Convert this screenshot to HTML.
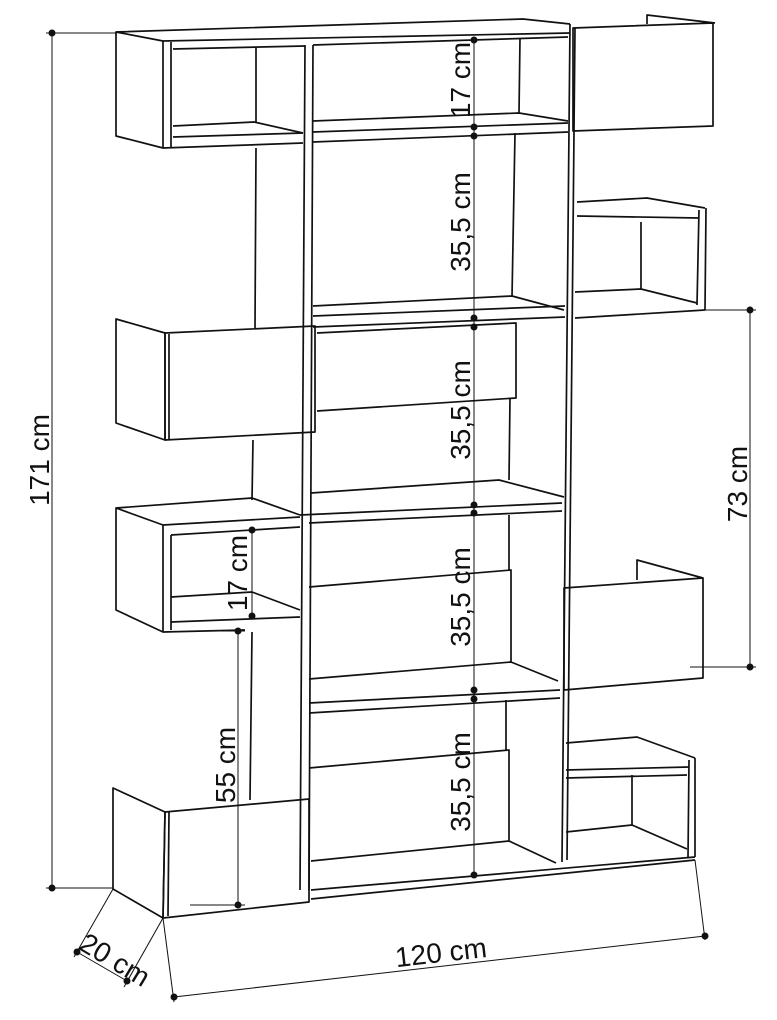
<!DOCTYPE html>
<html><head><meta charset="utf-8"><style>
html,body{margin:0;padding:0;background:#fff}
svg{display:block}
text{font-family:"Liberation Sans",sans-serif;font-size:28px;fill:#111}
</style></head><body>
<svg width="777" height="1020" viewBox="0 0 777 1020" xmlns="http://www.w3.org/2000/svg">
<g fill="none" stroke="#111" stroke-width="1.7" stroke-linejoin="round">
<polyline points="116,32 523,19 570,24"/>
<line x1="163" y1="41" x2="570" y2="33"/>
<line x1="173" y1="49" x2="305" y2="46"/>
<line x1="313" y1="45" x2="568" y2="37"/>
<polygon points="116,32 163,41 163,148 116,136"/>
<line x1="171" y1="42" x2="171" y2="147"/>
<line x1="256" y1="47" x2="256" y2="123"/>
<polyline points="173,126 254,122 303,133"/>
<line x1="173" y1="137" x2="303" y2="133"/>
<line x1="163" y1="148" x2="303" y2="143"/>
<line x1="520" y1="38" x2="519" y2="113"/>
<polyline points="313,121 519,113 568,121"/>
<line x1="313" y1="132" x2="568" y2="123"/>
<line x1="313" y1="142" x2="568" y2="132"/>
<polygon points="573,28 713,23 713,126 573,131"/>
<polyline points="647,24 647,15 715,23"/>
<line x1="305" y1="45" x2="300" y2="890"/>
<line x1="313" y1="45" x2="309" y2="890"/>
<line x1="570" y1="24" x2="562" y2="862"/>
<line x1="575" y1="28" x2="567" y2="860"/>
<line x1="256" y1="148" x2="255" y2="328"/>
<line x1="253" y1="440" x2="252" y2="500"/>
<line x1="252" y1="632" x2="250" y2="800"/>
<line x1="515" y1="133" x2="512" y2="297"/>
<polyline points="313,306 512,296 564,310"/>
<line x1="313" y1="316" x2="565" y2="306"/>
<line x1="313" y1="327" x2="565" y2="317"/>
<polyline points="577,202 647,198 705,208"/>
<line x1="577" y1="216" x2="699" y2="218"/>
<line x1="699" y1="210" x2="697" y2="305"/>
<line x1="706" y1="208" x2="705" y2="310"/>
<line x1="641" y1="222" x2="641" y2="289"/>
<polyline points="575,292 641,289 697,303"/>
<line x1="575" y1="318" x2="705" y2="310"/>
<polygon points="116,319 165,333 165,440 116,423"/>
<polygon points="165,333 315,326 315,432 165,440"/>
<line x1="169" y1="334" x2="169" y2="439"/>
<polyline points="317,333 516,323 516,398 317,411"/>
<line x1="510" y1="398" x2="509" y2="480"/>
<polyline points="311,493 499,480 564,497"/>
<line x1="300" y1="515" x2="562" y2="503"/>
<line x1="309" y1="523" x2="562" y2="511"/>
<polyline points="116,508 252,498 300,515"/>
<line x1="163" y1="525" x2="300" y2="517"/>
<line x1="171" y1="535" x2="300" y2="527"/>
<polygon points="116,508 163,525 163,632 116,610"/>
<line x1="171" y1="535" x2="171" y2="630"/>
<polyline points="171,597 252,592 300,610"/>
<line x1="171" y1="622" x2="300" y2="617"/>
<line x1="163" y1="632" x2="245" y2="630"/>
<line x1="509" y1="515" x2="509" y2="570"/>
<polyline points="309,587 511,570 511,662"/>
<polyline points="309,679 511,662 558,681"/>
<line x1="309" y1="703" x2="560" y2="690"/>
<line x1="309" y1="713" x2="560" y2="698"/>
<polygon points="564,588 703,578 703,678 564,690"/>
<polyline points="637,580 637,560 703,578"/>
<line x1="506" y1="700" x2="506" y2="750"/>
<polyline points="309,768 509,750 509,842"/>
<polyline points="311,861 509,841 556,863"/>
<line x1="311" y1="890" x2="695" y2="857"/>
<line x1="311" y1="899" x2="695" y2="860"/>
<polyline points="566,743 637,737 695,758"/>
<line x1="566" y1="770" x2="689" y2="767"/>
<line x1="566" y1="778" x2="687" y2="775"/>
<line x1="689" y1="760" x2="688" y2="858"/>
<line x1="695" y1="758" x2="695" y2="857"/>
<line x1="632" y1="775" x2="632" y2="826"/>
<polyline points="566,832 632,825 687,849"/>
<polygon points="113,788 165,812 163,918 113,889"/>
<polygon points="165,812 309,799 309,902 163,918"/>
<line x1="169" y1="812" x2="168" y2="916"/>
</g>
<g fill="none" stroke="#111" stroke-width="1">
<line x1="52" y1="33" x2="52" y2="888"/>
<line x1="46" y1="33" x2="117" y2="33"/>
<line x1="46" y1="888" x2="113" y2="888"/>
<line x1="750" y1="310" x2="750" y2="667"/>
<line x1="705" y1="310" x2="756" y2="310"/>
<line x1="690" y1="667" x2="756" y2="667"/>
<line x1="474" y1="38" x2="474" y2="878"/>
<line x1="252" y1="530" x2="252" y2="615"/>
<line x1="238" y1="631" x2="238" y2="906"/>
<line x1="190" y1="631" x2="245" y2="631"/>
<line x1="190" y1="905" x2="245" y2="905"/>
<line x1="174" y1="997" x2="705" y2="936"/>
<line x1="163" y1="918" x2="174" y2="1002"/>
<line x1="695" y1="860" x2="705" y2="940"/>
<line x1="113" y1="889" x2="74" y2="957"/>
<line x1="163" y1="918" x2="124" y2="987"/>
<line x1="77" y1="952" x2="127" y2="981"/>
</g>
<g fill="#111">
<circle cx="52" cy="33" r="3.5"/><circle cx="52" cy="888" r="3.5"/>
<circle cx="750" cy="310" r="3.5"/><circle cx="750" cy="667" r="3.5"/>
<circle cx="474" cy="40" r="3.5"/><circle cx="474" cy="127" r="3.5"/><circle cx="474" cy="136" r="3.5"/>
<circle cx="474" cy="318" r="3.5"/><circle cx="474" cy="327" r="3.5"/>
<circle cx="474" cy="505" r="3.5"/><circle cx="474" cy="513" r="3.5"/>
<circle cx="474" cy="690" r="3.5"/><circle cx="474" cy="699" r="3.5"/>
<circle cx="474" cy="875" r="3.5"/>
<circle cx="252" cy="530" r="3.5"/><circle cx="252" cy="616" r="3.5"/>
<circle cx="238" cy="631" r="3.5"/><circle cx="238" cy="905" r="3.5"/>
<circle cx="174" cy="997" r="3.5"/><circle cx="705" cy="936" r="3.5"/>
<circle cx="77" cy="952" r="3.5"/><circle cx="127" cy="981" r="3.5"/>
</g>
<text transform="translate(49,460) rotate(-90)" text-anchor="middle">171 cm</text>
<text transform="translate(747,484) rotate(-90)" text-anchor="middle">73 cm</text>
<text transform="translate(470,80) rotate(-90)" text-anchor="middle">17 cm</text>
<text transform="translate(470,222) rotate(-90)" text-anchor="middle">35,5 cm</text>
<text transform="translate(470,410) rotate(-90)" text-anchor="middle">35,5 cm</text>
<text transform="translate(470,597) rotate(-90)" text-anchor="middle">35,5 cm</text>
<text transform="translate(470,782) rotate(-90)" text-anchor="middle">35,5 cm</text>
<text transform="translate(247,573) rotate(-90)" text-anchor="middle">17 cm</text>
<text transform="translate(235,765) rotate(-90)" text-anchor="middle">55 cm</text>
<text transform="translate(442,962) rotate(-6.5)" text-anchor="middle">120 cm</text>
<text transform="translate(110,968) rotate(31)" text-anchor="middle">20 cm</text>
</svg>
</body></html>
